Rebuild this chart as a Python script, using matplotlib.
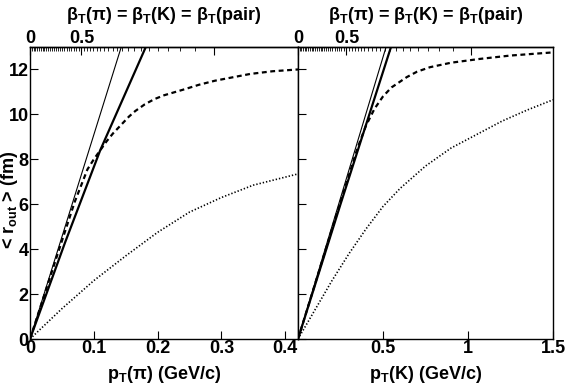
import numpy as np
import matplotlib
matplotlib.use('Agg')
from matplotlib import pyplot as plt
from matplotlib.ticker import FixedLocator

plt.rcParams['font.family'] = ['Liberation Sans', 'DejaVu Sans']
plt.rcParams['font.weight'] = 'bold'
plt.rcParams['mathtext.fontset'] = 'custom'
plt.rcParams['mathtext.rm'] = 'Liberation Sans:bold'
plt.rcParams['mathtext.it'] = 'Liberation Sans:bold'
plt.rcParams['mathtext.bf'] = 'Liberation Sans:bold'

M_PI = 0.1396
M_K = 0.4937

# pion panel
pi_thin_pt = [0, 0.143]
pi_thin_r = [0, 13.0]
pi_thick_pt = [0, 0.055, 0.11, 0.1815]
pi_thick_r = [0, 4.3, 8.4, 13.0]
pi_dash_pt = [0, 0.04, 0.07, 0.09, 0.1, 0.11, 0.12, 0.13, 0.14, 0.155, 0.165, 0.18,
              0.195, 0.21, 0.24, 0.265, 0.29, 0.345, 0.38, 0.42]
pi_dash_r = [0, 3.5, 6.1, 7.55, 8.0, 8.4, 8.8, 9.15, 9.45, 9.9, 10.15, 10.45,
             10.68, 10.85, 11.1, 11.32, 11.5, 11.8, 11.92, 12.0]
pi_dot_pt = [0, 0.05, 0.1, 0.15, 0.2, 0.25, 0.3, 0.35, 0.42]
pi_dot_r = [0, 1.35, 2.6, 3.7, 4.75, 5.65, 6.3, 6.85, 7.35]

# kaon panel
k_thin_pt = [0, 0.518]
k_thin_r = [0, 13.0]
k_thick_pt = [0, 0.25, 0.547]
k_thick_r = [0, 6.0, 13.0]
k_dash_pt = [0, 0.2, 0.35, 0.4, 0.45, 0.5, 0.55, 0.64, 0.7, 0.776, 0.9, 1.07, 1.25, 1.5]
k_dash_r = [0, 4.9, 8.5, 9.5, 10.25, 10.8, 11.2, 11.66, 11.9, 12.1, 12.3, 12.47, 12.62, 12.76]
k_dot_pt = [0, 0.1, 0.2, 0.3, 0.4, 0.5, 0.6, 0.75, 0.9, 1.05, 1.2, 1.35, 1.5]
k_dot_r = [0, 1.3, 2.6, 3.8, 4.9, 5.9, 6.7, 7.7, 8.5, 9.1, 9.7, 10.2, 10.65]

y_ticks = [0, 2, 4, 6, 8, 10, 12]
beta_minor = np.arange(0, 0.901, 0.02)

fig = plt.figure(figsize=(5.67, 3.87), dpi=100)
ax_pi = fig.add_axes([30 / 567, 48 / 387, 268 / 567, 292 / 387])
ax_k = fig.add_axes([298 / 567, 48 / 387, 255 / 567, 292 / 387])

FS = 13

panels = [
    (ax_pi, M_PI, 0.42, [0, 0.1, 0.2, 0.3, 0.4], ['0', '0.1', '0.2', '0.3', '0.4'],
     r'$\mathregular{p_T}$($\pi$) (GeV/c)',
     (pi_thin_pt, pi_thin_r), (pi_thick_pt, pi_thick_r),
     (pi_dash_pt, pi_dash_r), (pi_dot_pt, pi_dot_r)),
    (ax_k, M_K, 1.5, [0.5, 1, 1.5], ['0.5', '1', '1.5'],
     r'$\mathregular{p_T}$(K) (GeV/c)',
     (k_thin_pt, k_thin_r), (k_thick_pt, k_thick_r),
     (k_dash_pt, k_dash_r), (k_dot_pt, k_dot_r)),
]

for ax, m, xmax, xt, xtl, xlabel, thin, thick, dash, dot in panels:
    ax.plot(*thin, color='black', lw=0.8)
    ax.plot(*thick, color='black', lw=1.6)
    ax.plot(*dash, color='black', lw=1.6, ls=(0, (2.2, 1.6)))
    ax.plot(*dot, color='black', lw=1.2, ls=(0, (0.8, 1.2)))

    ax.set_xlim(0, xmax)
    ax.set_ylim(0, 13)
    ax.set_xticks(xt)
    ax.set_xticklabels(xtl)
    ax.set_yticks(y_ticks)
    ax.tick_params(direction='in', length=6, width=0.8, labelsize=FS, pad=1)
    ax.set_xlabel(xlabel, fontsize=FS, fontweight='bold', labelpad=5)
    for sp in ax.spines.values():
        sp.set_linewidth(1.0)

    # top axis in beta_T
    def fwd(p, m=m):
        p = np.asarray(p, dtype=float)
        return p / np.sqrt(p ** 2 + m ** 2)

    def inv(b, m=m):
        b = np.clip(np.asarray(b, dtype=float), -0.9999, 0.9999)
        return m * b / np.sqrt(1 - b ** 2)

    top = ax.secondary_xaxis('top', functions=(fwd, inv))
    top.set_xticks([0, 0.5, 0.9])
    top.set_xticklabels(['0', '0.5', ''])
    top.xaxis.set_minor_locator(FixedLocator(beta_minor))
    top.tick_params(which='major', direction='in', length=6, width=0.8,
                    labelsize=FS, pad=0)
    top.tick_params(which='minor', direction='in', length=3, width=0.6)
    top.spines['top'].set_linewidth(1.0)
    top.set_xlabel(r'$\mathregular{\beta_T}$($\pi$) = $\mathregular{\beta_T}$(K) = '
                   r'$\mathregular{\beta_T}$(pair)', fontsize=FS, fontweight='bold',
                   labelpad=7)

fig.text(10 / 567, 1 - 200 / 387, r'< $\mathregular{r_{out}}$ > (fm)', fontsize=FS,
         fontweight='bold', rotation=90, ha='center', va='center')
ax_k.set_yticklabels([])

fig.savefig('out.png', dpi=100)
